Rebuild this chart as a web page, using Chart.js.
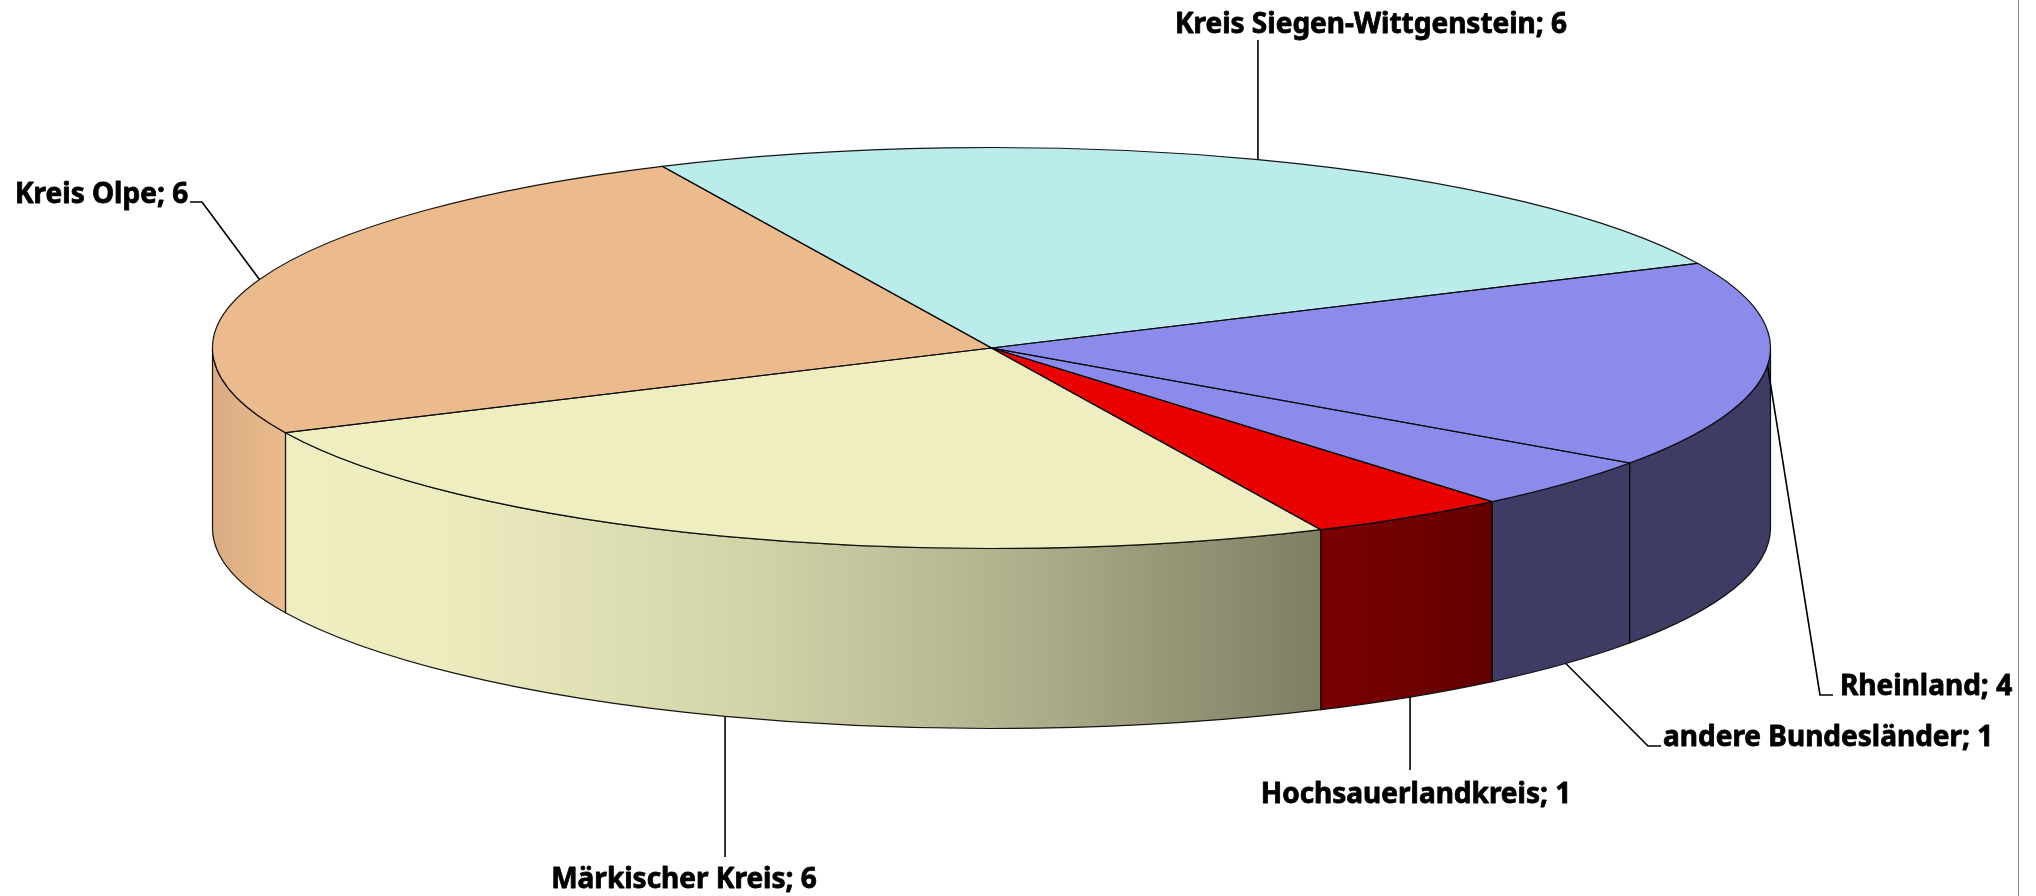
<!DOCTYPE html>
<html>
<head>
<meta charset="utf-8">
<script src="https://cdn.jsdelivr.net/npm/chart.js@4.4.1/dist/chart.umd.min.js"></script>
<style>
html,body{margin:0;padding:0;background:#ffffff;}
#wrap{width:2036px;height:896px;position:relative;overflow:hidden;}
canvas{display:block;}
</style>
</head>
<body>
<div id="wrap"><canvas id="c" width="2036" height="896"></canvas></div>
<script>
// ---- data ----
const categories = ['Kreis Siegen-Wittgenstein', 'Rheinland', 'andere Bundesländer', 'Hochsauerlandkreis', 'Märkischer Kreis', 'Kreis Olpe'];
const values = [6, 4, 1, 1, 6, 6];

// ---- styles ----
const topColors = ['#BBECEC', '#8B8BEB', '#8B8BEB', '#EB0000', '#EEEEC0', '#ECBB8D'];
const sideStops = [
  [[0, '#9CC9C9'], [1, '#9CC9C9']],
  [[0, '#3E3C64'], [1, '#3E3C64']],
  [[0, '#3E3C64'], [1, '#3E3C64']],
  [[0, '#7A0000'], [1, '#640000']],
  [[0, '#EEEEC0'], [0.15, '#ECECBF'], [0.45, '#D3D3A9'], [0.72, '#AEAE8C'], [1, '#7E7E62']],
  [[0, '#DAAC82'], [1, '#EBBB8D']]
];

// ---- geometry of the 3D pie (position / size) ----
const G = { cx: 991.5, cy: 348, rx: 779, ry: 200.5, depth: 180 };

// ---- label layout (text placement) ----
const labelLayout = [
  { x: 1371, y: 33,  align: 'center', anchor: 'top',    leader: [[null, 40]] },
  { x: 1840, y: 695, align: 'left',   anchor: 'top',    leader: [[1820, 695], [1833, 695]] },
  { x: 1663, y: 746, align: 'left',   anchor: 'bottom', leader: [[1648, 746], [1661, 746]] },
  { x: 1416, y: 803, align: 'center', anchor: 'bottom', leader: [[null, 770]] },
  { x: 684,  y: 888, align: 'center', anchor: 'bottom', leader: [[null, 857]] },
  { x: 15,   y: 203, align: 'left',   anchor: 'top',    leader: [[202, 202], [190, 202]] }
];
const labelFont = 'bold 28px "Noto Sans", "Open Sans", sans-serif';

function visibleRanges(s, e) {
  const out = [];
  const T = Math.PI * 2;
  for (let k = -2; k <= 2; k++) {
    const a = Math.max(s, k * T), b = Math.min(e, k * T + Math.PI);
    if (b > a + 1e-6) out.push([a, b]);
  }
  return out;
}

const pie3d = {
  id: 'pie3d',
  beforeDatasetsDraw(chart) {
    const ctx = chart.ctx;
    const arcs = chart.getDatasetMeta(0).data;
    // side walls (front half only)
    arcs.forEach((arc, i) => {
      const p = arc.getProps(['startAngle', 'endAngle'], true);
      visibleRanges(p.startAngle, p.endAngle).forEach(([a, b]) => {
        const xa = G.cx + G.rx * Math.cos(a), xb = G.cx + G.rx * Math.cos(b);
        const grad = ctx.createLinearGradient(Math.min(xa, xb), 0, Math.max(xa, xb), 0);
        sideStops[i].forEach(([o, c]) => grad.addColorStop(o, c));
        ctx.save();
        ctx.beginPath();
        ctx.ellipse(G.cx, G.cy, G.rx, G.ry, 0, a, b, false);
        ctx.lineTo(xb, G.cy + G.ry * Math.sin(b) + G.depth);
        ctx.ellipse(G.cx, G.cy + G.depth, G.rx, G.ry, 0, b, a, true);
        ctx.closePath();
        ctx.fillStyle = grad;
        ctx.fill();
        ctx.lineWidth = 1.2;
        ctx.strokeStyle = 'rgba(10,10,10,0.95)';
        ctx.stroke();
        ctx.restore();
      });
    });
    // squash the library's pie into the top ellipse
    const a0 = arcs[0];
    const r = a0.outerRadius;
    ctx.save();
    ctx.translate(G.cx, G.cy);
    ctx.scale(G.rx / r, G.ry / r);
    ctx.translate(-a0.x, -a0.y);
  },
  afterDatasetsDraw(chart) {
    const ctx = chart.ctx;
    const arcs = chart.getDatasetMeta(0).data;
    arcs.forEach(arc => {
      ctx.beginPath();
      ctx.moveTo(arc.x, arc.y);
      ctx.arc(arc.x, arc.y, arc.outerRadius, arc.startAngle, arc.endAngle);
      ctx.closePath();
      ctx.save();
      ctx.setTransform(1, 0, 0, 1, 0, 0);
      ctx.lineWidth = 1.2;
      ctx.strokeStyle = 'rgba(10,10,10,0.95)';
      ctx.stroke();
      ctx.restore();
    });
    ctx.restore();
  },
  afterDraw(chart) {
    const ctx = chart.ctx;
    const arcs = chart.getDatasetMeta(0).data;
    ctx.save();
    // frame line on the right
    ctx.strokeStyle = '#8a8a8a';
    ctx.lineWidth = 1;
    ctx.beginPath();
    ctx.moveTo(2018.5, 0);
    ctx.lineTo(2018.5, 896);
    ctx.stroke();

    ctx.font = labelFont;
    ctx.fillStyle = '#000000';
    ctx.textBaseline = 'alphabetic';
    arcs.forEach((arc, i) => {
      const L = labelLayout[i];
      const mid = (arc.startAngle + arc.endAngle) / 2;
      const ax = G.cx + G.rx * Math.cos(mid);
      const ay = G.cy + G.ry * Math.sin(mid) + (L.anchor === 'bottom' ? G.depth : 0);
      ctx.beginPath();
      ctx.moveTo(ax, ay);
      L.leader.forEach(([x, y]) => ctx.lineTo(x === null ? ax : x, y));
      ctx.strokeStyle = '#000000';
      ctx.lineWidth = 1.6;
      ctx.stroke();
      ctx.textAlign = L.align;
      const txt = categories[i] + '; ' + values[i];
      ctx.fillText(txt, L.x, L.y);
      ctx.lineWidth = 0.8;
      ctx.lineJoin = 'round';
      ctx.strokeText(txt, L.x, L.y);
    });
    ctx.restore();
  }
};

new Chart(document.getElementById('c'), {
  type: 'pie',
  data: {
    labels: categories,
    datasets: [{
      data: values,
      backgroundColor: topColors,
      borderWidth: 0,
      clip: false
    }]
  },
  options: {
    responsive: false,
    animation: false,
    events: [],
    rotation: -25,
    layout: { padding: 0 },
    plugins: {
      legend: { display: false },
      tooltip: { enabled: false }
    }
  },
  plugins: [pie3d]
});
</script>
</body>
</html>
